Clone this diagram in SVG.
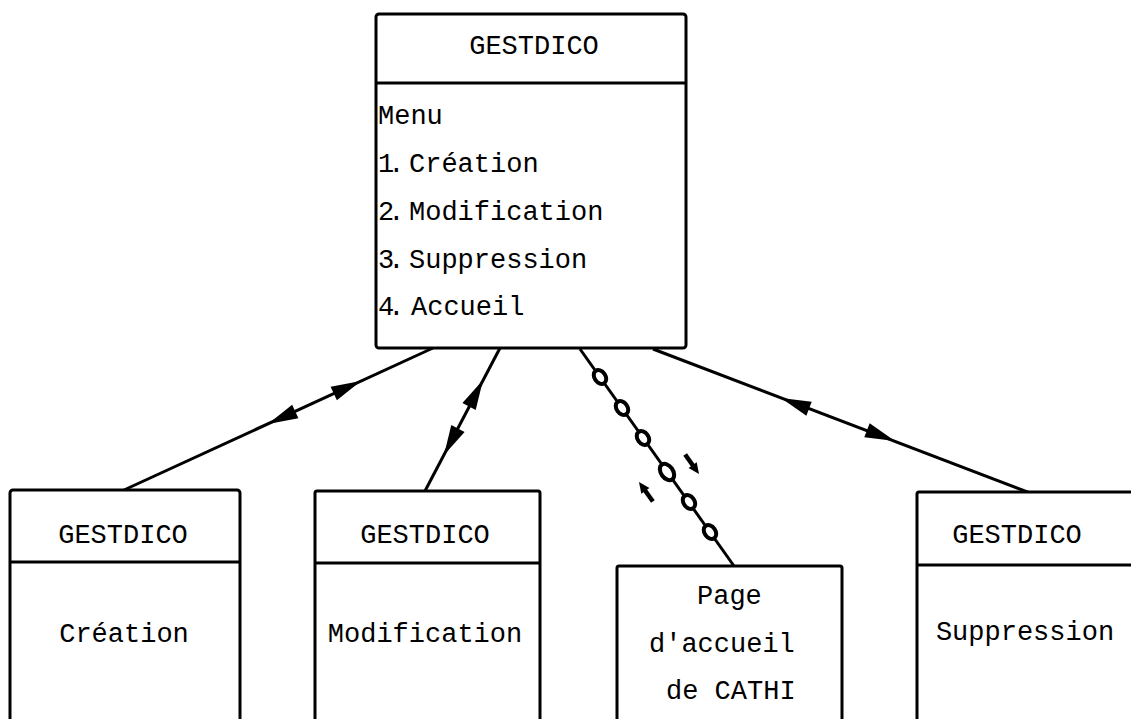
<svg xmlns="http://www.w3.org/2000/svg" xmlns:xlink="http://www.w3.org/1999/xlink" width="1131" height="719" viewBox="0 0 1131 719">
<style>
.box{fill:#fff;stroke:#000;stroke-width:3}
.div{stroke:#000;stroke-width:3;fill:none}
.t{font-family:"Liberation Mono","DejaVu Sans Mono",monospace;font-size:27px;fill:#000}
.c{text-anchor:middle}
.n{letter-spacing:-6px}
.ln{stroke:#000;stroke-width:3;fill:none}
.bead{fill:#fff;stroke:#000;stroke-width:4}
</style>
<defs>
<path id="ah" d="M0,0 L-30,-7.5 L-30,7.5 Z" fill="#000"/>
<g id="sa"><path d="M-24,0 H-8" stroke="#000" stroke-width="4.5"/><path d="M0,0 L-11,-5 L-11,5 Z" fill="#000"/></g>
</defs>
<rect width="1131" height="719" fill="#fff"/>

<g id="connectors">
  <line class="ln" x1="433" y1="348" x2="124" y2="490"/>
  <use xlink:href="#ah" transform="translate(361,381) rotate(-24.68)"/>
  <use xlink:href="#ah" transform="translate(268,424) rotate(155.32)"/>

  <line class="ln" x1="500" y1="348" x2="425" y2="491"/>
  <use xlink:href="#ah" transform="translate(483,380) rotate(-62.32)"/>
  <use xlink:href="#ah" transform="translate(444,455) rotate(117.68)"/>

  <line class="ln" x1="580" y1="349" x2="734" y2="566"/>
  <ellipse class="bead" cx="600" cy="377" rx="7.5" ry="5.5" transform="rotate(54.64 600 377)"/>
  <ellipse class="bead" cx="622" cy="408" rx="7.5" ry="5.5" transform="rotate(54.64 622 408)"/>
  <ellipse class="bead" cx="643" cy="438" rx="7.5" ry="5.5" transform="rotate(54.64 643 438)"/>
  <ellipse class="bead" cx="667" cy="472" rx="9" ry="6" transform="rotate(54.64 667 472)"/>
  <ellipse class="bead" cx="689" cy="502" rx="7.5" ry="5.5" transform="rotate(54.64 689 502)"/>
  <ellipse class="bead" cx="710" cy="532" rx="7.5" ry="5.5" transform="rotate(54.64 710 532)"/>
  <use xlink:href="#sa" transform="translate(699,474) rotate(54.64)"/>
  <use xlink:href="#sa" transform="translate(639,482) rotate(234.64)"/>

  <line class="ln" x1="653" y1="349" x2="1030" y2="493"/>
  <use xlink:href="#ah" transform="translate(781,398) rotate(200.91)"/>
  <use xlink:href="#ah" transform="translate(895,441) rotate(20.91)"/>
</g>

<g id="node-main">
  <rect class="box" x="376" y="14" width="310" height="334" rx="3"/>
  <line class="div" x1="376" y1="83" x2="686" y2="83"/>
  <text class="t c" x="534" y="54">GESTDICO</text>
  <text class="t" x="378" y="124">Menu</text>
  <text class="t"><tspan class="n" x="378" y="172">1. </tspan><tspan x="409" y="172">Création</tspan></text>
  <text class="t"><tspan class="n" x="378" y="220">2. </tspan><tspan x="409" y="220">Modification</tspan></text>
  <text class="t"><tspan class="n" x="378" y="268">3. </tspan><tspan x="409" y="268">Suppression</tspan></text>
  <text class="t"><tspan class="n" x="378" y="315">4. </tspan><tspan x="411" y="315">Accueil</tspan></text>
</g>

<g id="node-creation">
  <rect class="box" x="10" y="490" width="230" height="250" rx="3"/>
  <line class="div" x1="10" y1="562" x2="240" y2="562"/>
  <text class="t c" x="123" y="543">GESTDICO</text>
  <text class="t c" x="124" y="642">Création</text>
</g>

<g id="node-modification">
  <rect class="box" x="315" y="491" width="225" height="250" rx="2"/>
  <line class="div" x1="315" y1="563" x2="540" y2="563"/>
  <text class="t c" x="425" y="543">GESTDICO</text>
  <text class="t c" x="425" y="642">Modification</text>
</g>

<g id="node-accueil">
  <rect class="box" x="617" y="566" width="225" height="180" rx="2"/>
  <text class="t" x="697" y="604">Page</text>
  <text class="t" x="649" y="652">d'accueil</text>
  <text class="t" x="666" y="699">de CATHI</text>
</g>

<g id="node-suppression">
  <rect class="box" x="917" y="492" width="230" height="250" rx="2"/>
  <line class="div" x1="917" y1="565" x2="1131" y2="565"/>
  <text class="t c" x="1017" y="543">GESTDICO</text>
  <text class="t c" x="1025" y="640">Suppression</text>
</g>
</svg>
